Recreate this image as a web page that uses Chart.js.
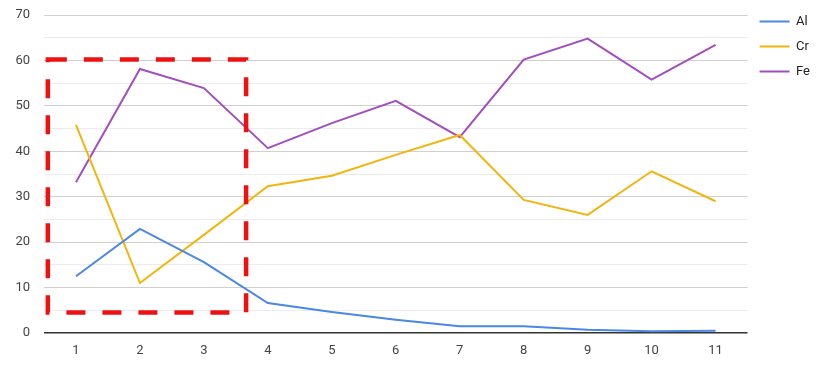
<!DOCTYPE html>
<html>
<head>
<meta charset="utf-8">
<script src="https://cdn.jsdelivr.net/npm/chart.js@4/dist/chart.umd.min.js"></script>
<style>
  html, body { margin: 0; padding: 0; background: #fff; }
  #wrap { width: 824px; height: 367px; }
</style>
</head>
<body>
<div id="wrap"><canvas id="chart"></canvas></div>
<script>
// data
const categories = ['1', '2', '3', '4', '5', '6', '7', '8', '9', '10', '11'];
const alValues = [12.5, 22.9, 15.6, 6.6, 4.6, 2.9, 1.5, 1.5, 0.7, 0.4, 0.5];
const crValues = [45.8, 11.0, 21.6, 32.3, 34.6, 39.2, 43.6, 29.3, 26.0, 35.6, 29.0];
const feValues = [33.2, 58.1, 53.9, 40.7, 46.2, 51.1, 43.1, 60.2, 64.8, 55.8, 63.4];

// highlight box in data units (x = category index, y = value)
const boxX = [-0.44, 2.66];
const boxY = [4.5, 60.2];

// dashed red rectangle drawn on top of the plot
const boxPlugin = {
  id: 'highlightBox',
  afterDatasetsDraw(chart) {
    const { ctx, scales: { x, y } } = chart;
    const left = x.getPixelForValue(boxX[0]);
    const right = x.getPixelForValue(boxX[1]);
    const top = y.getPixelForValue(boxY[1]);
    const bottom = y.getPixelForValue(boxY[0]);
    ctx.save();
    ctx.strokeStyle = '#ee1111';
    ctx.lineWidth = 4.5;
    ctx.setLineDash([19, 17]);
    ctx.strokeRect(left, top, right - left, bottom - top);
    ctx.restore();
  }
};

function series(label, data, color) {
  return {
    label, data,
    borderColor: color, backgroundColor: color,
    pointBorderColor: color, pointBackgroundColor: color, pointBorderWidth: 2
  };
}

new Chart(document.getElementById('chart'), {
  type: 'line',
  data: {
    labels: categories,
    datasets: [
      series('Al', alValues, '#4a88e4'),
      series('Cr', crValues, '#f2b50f'),
      series('Fe', feValues, '#a24fbe')
    ]
  },
  options: {
    responsive: true,
    maintainAspectRatio: false,
    animation: false,
    layout: { padding: { top: 3, right: 4, bottom: 0, left: 0 } },
    elements: {
      line: { borderWidth: 2, tension: 0 },
      point: { radius: 0 }
    },
    plugins: {
      tooltip: { enabled: false },
      legend: {
        position: 'right',
        align: 'start',
        labels: {
          usePointStyle: true,
          pointStyle: 'line',
          pointStyleWidth: 30,
          boxHeight: 12,
          padding: 12,
          color: '#222',
          font: { family: 'Roboto, Arial, sans-serif', size: 13 }
        }
      }
    },
    scales: {
      x: {
        offset: true,
        afterFit: s => { s.height = 34; },
        grid: { display: false, drawTicks: false },
        border: { display: false },
        ticks: { color: '#444', padding: 10, font: { family: 'Roboto, Arial, sans-serif', size: 13 } }
      },
      y: {
        min: 0,
        max: 70,
        afterFit: s => { s.width = 44; s.paddingTop = 15; },
        border: { display: false },
        grid: {
          drawTicks: false,
          color: c => c.tick.value === 0 ? '#333' : (c.tick.value % 10 === 0 ? '#d0d0d0' : '#ececec'),
          lineWidth: c => c.tick.value === 0 ? 1.5 : 1
        },
        ticks: {
          stepSize: 5,
          padding: 14,
          color: '#444',
          font: { family: 'Roboto, Arial, sans-serif', size: 13 },
          callback: v => v % 10 === 0 ? v : ''
        }
      }
    }
  },
  plugins: [boxPlugin]
});
</script>
</body>
</html>
